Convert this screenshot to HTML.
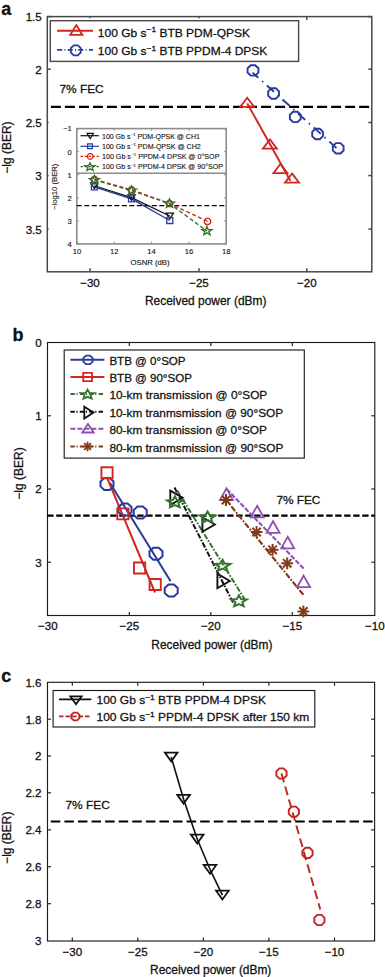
<!DOCTYPE html>
<html><head><meta charset="utf-8"><style>
html,body{margin:0;padding:0;background:#fff;}
svg{display:block;font-family:"Liberation Sans", sans-serif;}
text{stroke:#111;stroke-width:0.28px;}
.s{stroke-width:0.12px;}
</style></head><body>
<svg width="385" height="977" viewBox="0 0 385 977">
<rect width="385" height="977" fill="#fff"/>
<text x="1.30" y="14.90" font-size="18" text-anchor="start" fill="#111" font-weight="bold" >a</text>
<rect x="47.30" y="16.60" width="324.50" height="255.20" fill="none" stroke="#484848" stroke-width="1.5"/>
<line x1="90.00" y1="271.80" x2="90.00" y2="268.30" stroke="#484848" stroke-width="1.5" stroke-linecap="butt"/>
<line x1="90.00" y1="16.60" x2="90.00" y2="18.20" stroke="#484848" stroke-width="1.5" stroke-linecap="butt"/>
<line x1="199.00" y1="271.80" x2="199.00" y2="268.30" stroke="#484848" stroke-width="1.5" stroke-linecap="butt"/>
<line x1="199.00" y1="16.60" x2="199.00" y2="18.20" stroke="#484848" stroke-width="1.5" stroke-linecap="butt"/>
<line x1="306.80" y1="271.80" x2="306.80" y2="268.30" stroke="#484848" stroke-width="1.5" stroke-linecap="butt"/>
<line x1="306.80" y1="16.60" x2="306.80" y2="20.10" stroke="#484848" stroke-width="1.5" stroke-linecap="butt"/>
<line x1="47.30" y1="16.60" x2="50.80" y2="16.60" stroke="#484848" stroke-width="1.5" stroke-linecap="butt"/>
<line x1="371.80" y1="16.60" x2="368.30" y2="16.60" stroke="#484848" stroke-width="1.5" stroke-linecap="butt"/>
<line x1="47.30" y1="69.20" x2="50.80" y2="69.20" stroke="#484848" stroke-width="1.5" stroke-linecap="butt"/>
<line x1="371.80" y1="69.20" x2="368.30" y2="69.20" stroke="#484848" stroke-width="1.5" stroke-linecap="butt"/>
<line x1="47.30" y1="122.50" x2="50.80" y2="122.50" stroke="#484848" stroke-width="1.5" stroke-linecap="butt"/>
<line x1="371.80" y1="122.50" x2="368.30" y2="122.50" stroke="#484848" stroke-width="1.5" stroke-linecap="butt"/>
<line x1="47.30" y1="175.60" x2="50.80" y2="175.60" stroke="#484848" stroke-width="1.5" stroke-linecap="butt"/>
<line x1="371.80" y1="175.60" x2="368.30" y2="175.60" stroke="#484848" stroke-width="1.5" stroke-linecap="butt"/>
<line x1="47.30" y1="229.00" x2="50.80" y2="229.00" stroke="#484848" stroke-width="1.5" stroke-linecap="butt"/>
<line x1="371.80" y1="229.00" x2="368.30" y2="229.00" stroke="#484848" stroke-width="1.5" stroke-linecap="butt"/>
<text x="41.80" y="21.20" font-size="11.6" text-anchor="end" fill="#111" font-weight="normal" >1.5</text>
<text x="41.80" y="73.80" font-size="11.6" text-anchor="end" fill="#111" font-weight="normal" >2</text>
<text x="41.80" y="127.10" font-size="11.6" text-anchor="end" fill="#111" font-weight="normal" >2.5</text>
<text x="41.80" y="180.20" font-size="11.6" text-anchor="end" fill="#111" font-weight="normal" >3</text>
<text x="41.80" y="233.60" font-size="11.6" text-anchor="end" fill="#111" font-weight="normal" >3.5</text>
<text x="90.00" y="287.20" font-size="11.6" text-anchor="middle" fill="#111" font-weight="normal" >−30</text>
<text x="199.00" y="287.20" font-size="11.6" text-anchor="middle" fill="#111" font-weight="normal" >−25</text>
<text x="306.80" y="287.20" font-size="11.6" text-anchor="middle" fill="#111" font-weight="normal" >−20</text>
<text x="205.70" y="305.00" font-size="12" text-anchor="middle" fill="#111" font-weight="normal" textLength="121.4" lengthAdjust="spacingAndGlyphs" >Received power (dBm)</text>
<text x="0.00" y="0.00" font-size="12" text-anchor="middle" fill="#111" font-weight="normal" transform="translate(11.4,147.6) rotate(-90)" textLength="52.3" lengthAdjust="spacingAndGlyphs">−lg (BER)</text>
<line x1="50.90" y1="106.90" x2="371.80" y2="106.90" stroke="#000" stroke-width="2.2" stroke-linecap="butt" stroke-dasharray="10 4.01" stroke-dashoffset="0"/>
<text transform="translate(59.40,93.30) scale(1,0.9)" font-size="12" text-anchor="start" fill="#111" font-weight="normal" textLength="44.3" lengthAdjust="spacingAndGlyphs" >7% FEC</text>
<rect x="50.30" y="20.70" width="248.30" height="40.70" fill="#fff" stroke="#484848" stroke-width="1.4"/>
<line x1="57.10" y1="30.70" x2="93.00" y2="30.70" stroke="#d0281f" stroke-width="1.9" stroke-linecap="butt"/>
<polygon points="76.30,25.10 82.40,34.90 70.20,34.90" fill="none" stroke="#d0281f" stroke-width="1.8" stroke-linejoin="miter"/>
<line x1="57.10" y1="49.90" x2="93.00" y2="49.90" stroke="#283a9c" stroke-width="1.9" stroke-linecap="butt" stroke-dasharray="5 2.3 1 2.3" stroke-dashoffset="0"/>
<polygon points="80.80,52.37 77.87,55.30 73.73,55.30 70.80,52.37 70.80,48.23 73.73,45.30 77.87,45.30 80.80,48.23" fill="none" stroke="#283a9c" stroke-width="1.8" stroke-linejoin="miter"/>
<text transform="translate(97.80,36.50) scale(1,0.93)" font-size="12" text-anchor="start" fill="#111" font-weight="normal" >100 Gb s<tspan dy="-4.6" font-size="8.4">−1</tspan><tspan dy="4.6"> BTB PDM-QPSK</tspan></text>
<text transform="translate(97.80,54.90) scale(1,0.93)" font-size="12" text-anchor="start" fill="#111" font-weight="normal" >100 Gb s<tspan dy="-4.6" font-size="8.4">−1</tspan><tspan dy="4.6"> BTB PPDM-4 DPSK</tspan></text>
<line x1="252.60" y1="72.60" x2="338.50" y2="149.80" stroke="#283a9c" stroke-width="1.9" stroke-linecap="butt" stroke-dasharray="9.5 5 1.5 5" stroke-dashoffset="1.8"/>
<polygon points="258.40,72.55 255.24,75.60 250.76,75.60 247.60,72.55 247.60,68.25 250.76,65.20 255.24,65.20 258.40,68.25" fill="none" stroke="#283a9c" stroke-width="1.9" stroke-linejoin="miter"/>
<polygon points="279.00,95.65 275.84,98.70 271.36,98.70 268.20,95.65 268.20,91.35 271.36,88.30 275.84,88.30 279.00,91.35" fill="none" stroke="#283a9c" stroke-width="1.9" stroke-linejoin="miter"/>
<polygon points="300.70,119.05 297.54,122.10 293.06,122.10 289.90,119.05 289.90,114.75 293.06,111.70 297.54,111.70 300.70,114.75" fill="none" stroke="#283a9c" stroke-width="1.9" stroke-linejoin="miter"/>
<polygon points="323.00,136.15 319.84,139.20 315.36,139.20 312.20,136.15 312.20,131.85 315.36,128.80 319.84,128.80 323.00,131.85" fill="none" stroke="#283a9c" stroke-width="1.9" stroke-linejoin="miter"/>
<polygon points="343.60,150.45 340.44,153.50 335.96,153.50 332.80,150.45 332.80,146.15 335.96,143.10 340.44,143.10 343.60,146.15" fill="none" stroke="#283a9c" stroke-width="1.9" stroke-linejoin="miter"/>
<line x1="247.30" y1="103.50" x2="290.50" y2="181.00" stroke="#d0281f" stroke-width="1.9" stroke-linecap="butt"/>
<polygon points="247.20,97.70 254.20,106.90 240.20,106.90" fill="none" stroke="#d0281f" stroke-width="1.8" stroke-linejoin="miter"/>
<polygon points="269.90,139.40 276.90,148.60 262.90,148.60" fill="none" stroke="#d0281f" stroke-width="1.8" stroke-linejoin="miter"/>
<polygon points="280.40,163.90 287.40,173.10 273.40,173.10" fill="none" stroke="#d0281f" stroke-width="1.8" stroke-linejoin="miter"/>
<polygon points="292.00,173.40 299.00,182.60 285.00,182.60" fill="none" stroke="#d0281f" stroke-width="1.8" stroke-linejoin="miter"/>
<rect x="48.6" y="118" width="184" height="149.3" fill="#fff"/>
<rect x="76.80" y="128.60" width="149.40" height="115.30" fill="#fff" stroke="#8c8c8c" stroke-width="1.6"/>
<line x1="77.00" y1="243.90" x2="77.00" y2="241.70" stroke="#8c8c8c" stroke-width="1" stroke-linecap="butt"/>
<line x1="77.00" y1="128.60" x2="77.00" y2="130.80" stroke="#8c8c8c" stroke-width="1" stroke-linecap="butt"/>
<line x1="114.30" y1="243.90" x2="114.30" y2="241.70" stroke="#8c8c8c" stroke-width="1" stroke-linecap="butt"/>
<line x1="114.30" y1="128.60" x2="114.30" y2="130.80" stroke="#8c8c8c" stroke-width="1" stroke-linecap="butt"/>
<line x1="151.60" y1="243.90" x2="151.60" y2="241.70" stroke="#8c8c8c" stroke-width="1" stroke-linecap="butt"/>
<line x1="151.60" y1="128.60" x2="151.60" y2="130.80" stroke="#8c8c8c" stroke-width="1" stroke-linecap="butt"/>
<line x1="189.00" y1="243.90" x2="189.00" y2="241.70" stroke="#8c8c8c" stroke-width="1" stroke-linecap="butt"/>
<line x1="189.00" y1="128.60" x2="189.00" y2="130.80" stroke="#8c8c8c" stroke-width="1" stroke-linecap="butt"/>
<line x1="226.20" y1="243.90" x2="226.20" y2="241.70" stroke="#8c8c8c" stroke-width="1" stroke-linecap="butt"/>
<line x1="226.20" y1="128.60" x2="226.20" y2="130.80" stroke="#8c8c8c" stroke-width="1" stroke-linecap="butt"/>
<line x1="76.80" y1="128.60" x2="79.00" y2="128.60" stroke="#8c8c8c" stroke-width="1" stroke-linecap="butt"/>
<line x1="226.20" y1="128.60" x2="224.00" y2="128.60" stroke="#8c8c8c" stroke-width="1" stroke-linecap="butt"/>
<line x1="76.80" y1="151.70" x2="79.00" y2="151.70" stroke="#8c8c8c" stroke-width="1" stroke-linecap="butt"/>
<line x1="226.20" y1="151.70" x2="224.00" y2="151.70" stroke="#8c8c8c" stroke-width="1" stroke-linecap="butt"/>
<line x1="76.80" y1="174.80" x2="79.00" y2="174.80" stroke="#8c8c8c" stroke-width="1" stroke-linecap="butt"/>
<line x1="226.20" y1="174.80" x2="224.00" y2="174.80" stroke="#8c8c8c" stroke-width="1" stroke-linecap="butt"/>
<line x1="76.80" y1="197.80" x2="79.00" y2="197.80" stroke="#8c8c8c" stroke-width="1" stroke-linecap="butt"/>
<line x1="226.20" y1="197.80" x2="224.00" y2="197.80" stroke="#8c8c8c" stroke-width="1" stroke-linecap="butt"/>
<line x1="76.80" y1="220.90" x2="79.00" y2="220.90" stroke="#8c8c8c" stroke-width="1" stroke-linecap="butt"/>
<line x1="226.20" y1="220.90" x2="224.00" y2="220.90" stroke="#8c8c8c" stroke-width="1" stroke-linecap="butt"/>
<line x1="76.80" y1="243.90" x2="79.00" y2="243.90" stroke="#8c8c8c" stroke-width="1" stroke-linecap="butt"/>
<line x1="226.20" y1="243.90" x2="224.00" y2="243.90" stroke="#8c8c8c" stroke-width="1" stroke-linecap="butt"/>
<text x="71.80" y="131.40" font-size="7.6" text-anchor="end" fill="#111" font-weight="normal" class="s">−1</text>
<text x="71.80" y="154.50" font-size="7.6" text-anchor="end" fill="#111" font-weight="normal" class="s">0</text>
<text x="71.80" y="177.60" font-size="7.6" text-anchor="end" fill="#111" font-weight="normal" class="s">1</text>
<text x="71.80" y="200.60" font-size="7.6" text-anchor="end" fill="#111" font-weight="normal" class="s">2</text>
<text x="71.80" y="223.70" font-size="7.6" text-anchor="end" fill="#111" font-weight="normal" class="s">3</text>
<text x="71.80" y="246.70" font-size="7.6" text-anchor="end" fill="#111" font-weight="normal" class="s">4</text>
<text x="77.00" y="254.40" font-size="7.6" text-anchor="middle" fill="#111" font-weight="normal" class="s">10</text>
<text x="114.30" y="254.40" font-size="7.6" text-anchor="middle" fill="#111" font-weight="normal" class="s">12</text>
<text x="151.60" y="254.40" font-size="7.6" text-anchor="middle" fill="#111" font-weight="normal" class="s">14</text>
<text x="189.00" y="254.40" font-size="7.6" text-anchor="middle" fill="#111" font-weight="normal" class="s">16</text>
<text x="226.20" y="254.40" font-size="7.6" text-anchor="middle" fill="#111" font-weight="normal" class="s">18</text>
<text x="150.10" y="265.00" font-size="7.6" text-anchor="middle" fill="#111" font-weight="normal" textLength="39" lengthAdjust="spacingAndGlyphs" class="s">OSNR (dB)</text>
<text x="0.00" y="0.00" font-size="7.2" text-anchor="middle" fill="#111" font-weight="normal" class="s" transform="translate(56.8,186.8) rotate(-90)" textLength="46.5" lengthAdjust="spacingAndGlyphs">−log10 (BER)</text>
<line x1="76.80" y1="205.60" x2="226.20" y2="205.60" stroke="#000" stroke-width="1.4" stroke-linecap="butt" stroke-dasharray="5 2.5" stroke-dashoffset="0"/>
<line x1="76.80" y1="173.20" x2="226.20" y2="173.20" stroke="#8c8c8c" stroke-width="1.4" stroke-linecap="butt"/>
<line x1="80.50" y1="135.70" x2="98.90" y2="135.70" stroke="#111" stroke-width="1.2" stroke-linecap="butt"/>
<polygon points="87.00,133.40 93.40,133.40 90.20,138.60" fill="none" stroke="#111" stroke-width="1.2" stroke-linejoin="miter"/>
<line x1="80.50" y1="146.30" x2="98.90" y2="146.30" stroke="#283a9c" stroke-width="1.2" stroke-linecap="butt"/>
<polygon points="87.60,143.90 92.40,143.90 92.40,148.70 87.60,148.70" fill="none" stroke="#283a9c" stroke-width="1.2" stroke-linejoin="miter"/>
<line x1="80.50" y1="156.40" x2="98.90" y2="156.40" stroke="#d0281f" stroke-width="1.2" stroke-linecap="butt" stroke-dasharray="2.5 1.5" stroke-dashoffset="0"/>
<polygon points="92.90,157.56 91.32,159.20 89.08,159.20 87.50,157.56 87.50,155.24 89.08,153.60 91.32,153.60 92.90,155.24" fill="none" stroke="#d0281f" stroke-width="1.2" stroke-linejoin="miter"/>
<line x1="80.50" y1="166.70" x2="98.90" y2="166.70" stroke="#377231" stroke-width="1.2" stroke-linecap="butt" stroke-dasharray="2.5 1.5" stroke-dashoffset="0"/>
<polygon points="90.00,162.70 91.33,165.54 95.11,165.67 92.15,167.56 93.16,170.48 90.00,168.81 86.84,170.48 87.85,167.56 84.89,165.67 88.67,165.54" fill="none" stroke="#377231" stroke-width="1.3" stroke-linejoin="miter"/>
<text x="102.00" y="138.60" font-size="7.2" text-anchor="start" fill="#111" font-weight="normal" textLength="97.9" lengthAdjust="spacingAndGlyphs" class="s">100 Gb s<tspan dy="-2.8" font-size="4.0" dx="0.5">−1</tspan><tspan dy="2.8" dx="0.3"> PDM-QPSK @ CH1</tspan></text>
<text x="102.00" y="148.90" font-size="7.2" text-anchor="start" fill="#111" font-weight="normal" textLength="98.7" lengthAdjust="spacingAndGlyphs" class="s">100 Gb s<tspan dy="-2.8" font-size="4.0" dx="0.5">−1</tspan><tspan dy="2.8" dx="0.3"> PDM-QPSK @ CH2</tspan></text>
<text x="102.00" y="159.00" font-size="7.2" text-anchor="start" fill="#111" font-weight="normal" textLength="117.4" lengthAdjust="spacingAndGlyphs" class="s">100 Gb s<tspan dy="-2.8" font-size="4.0" dx="0.5">−1</tspan><tspan dy="2.8" dx="0.3"> PPDM-4 DPSK @ 0°SOP</tspan></text>
<text x="102.00" y="169.30" font-size="7.2" text-anchor="start" fill="#111" font-weight="normal" textLength="121.0" lengthAdjust="spacingAndGlyphs" class="s">100 Gb s<tspan dy="-2.8" font-size="4.0" dx="0.5">−1</tspan><tspan dy="2.8" dx="0.3"> PPDM-4 DPSK @ 90°SOP</tspan></text>
<polyline points="94.40,185.80 131.50,197.60 169.80,216.00" fill="none" stroke="#111" stroke-width="1.2" stroke-linejoin="round"/>
<polyline points="94.40,186.80 131.50,198.80 169.80,220.50" fill="none" stroke="#283a9c" stroke-width="1.4" stroke-linejoin="round"/>
<polyline points="94.40,179.40 131.50,189.80 169.50,203.50 207.50,221.40" fill="none" stroke="#d0281f" stroke-width="1.4" stroke-linejoin="round" stroke-dasharray="4 2.5" stroke-dashoffset="0"/>
<polyline points="94.40,180.00 131.50,190.60 169.50,203.60 206.90,231.00" fill="none" stroke="#377231" stroke-width="1.4" stroke-linejoin="round" stroke-dasharray="4 2.5" stroke-dashoffset="0"/>
<polygon points="90.80,183.00 98.00,183.00 94.40,188.60" fill="none" stroke="#111" stroke-width="1.3" stroke-linejoin="miter"/>
<polygon points="127.90,194.80 135.10,194.80 131.50,200.40" fill="none" stroke="#111" stroke-width="1.3" stroke-linejoin="miter"/>
<polygon points="166.20,213.20 173.40,213.20 169.80,218.80" fill="none" stroke="#111" stroke-width="1.3" stroke-linejoin="miter"/>
<polygon points="91.40,183.80 97.40,183.80 97.40,189.80 91.40,189.80" fill="none" stroke="#283a9c" stroke-width="1.3" stroke-linejoin="miter"/>
<polygon points="128.50,195.80 134.50,195.80 134.50,201.80 128.50,201.80" fill="none" stroke="#283a9c" stroke-width="1.3" stroke-linejoin="miter"/>
<polygon points="166.80,217.50 172.80,217.50 172.80,223.50 166.80,223.50" fill="none" stroke="#283a9c" stroke-width="1.3" stroke-linejoin="miter"/>
<polygon points="97.50,180.68 95.68,182.50 93.12,182.50 91.30,180.68 91.30,178.12 93.12,176.30 95.68,176.30 97.50,178.12" fill="none" stroke="#d0281f" stroke-width="1.3" stroke-linejoin="miter"/>
<polygon points="134.60,191.08 132.78,192.90 130.22,192.90 128.40,191.08 128.40,188.52 130.22,186.70 132.78,186.70 134.60,188.52" fill="none" stroke="#d0281f" stroke-width="1.3" stroke-linejoin="miter"/>
<polygon points="172.60,204.78 170.78,206.60 168.22,206.60 166.40,204.78 166.40,202.22 168.22,200.40 170.78,200.40 172.60,202.22" fill="none" stroke="#d0281f" stroke-width="1.3" stroke-linejoin="miter"/>
<polygon points="210.60,222.68 208.78,224.50 206.22,224.50 204.40,222.68 204.40,220.12 206.22,218.30 208.78,218.30 210.60,220.12" fill="none" stroke="#d0281f" stroke-width="1.3" stroke-linejoin="miter"/>
<polygon points="94.40,175.50 95.68,178.47 99.32,178.61 96.47,180.58 97.44,183.64 94.40,181.89 91.36,183.64 92.33,180.58 89.48,178.61 93.12,178.47" fill="none" stroke="#377231" stroke-width="1.4" stroke-linejoin="miter"/>
<polygon points="131.50,186.10 132.78,189.07 136.42,189.21 133.57,191.18 134.54,194.24 131.50,192.49 128.46,194.24 129.43,191.18 126.58,189.21 130.22,189.07" fill="none" stroke="#377231" stroke-width="1.4" stroke-linejoin="miter"/>
<polygon points="169.50,199.10 170.78,202.07 174.42,202.21 171.57,204.18 172.54,207.24 169.50,205.49 166.46,207.24 167.43,204.18 164.58,202.21 168.22,202.07" fill="none" stroke="#377231" stroke-width="1.4" stroke-linejoin="miter"/>
<polygon points="206.90,226.50 208.18,229.47 211.82,229.61 208.97,231.58 209.94,234.64 206.90,232.89 203.86,234.64 204.83,231.58 201.98,229.61 205.62,229.47" fill="none" stroke="#377231" stroke-width="1.4" stroke-linejoin="miter"/>
<text x="12.60" y="340.70" font-size="18" text-anchor="start" fill="#111" font-weight="bold" >b</text>
<rect x="47.50" y="342.50" width="327.30" height="273.00" fill="none" stroke="#1c1c1c" stroke-width="1.15"/>
<line x1="129.30" y1="615.50" x2="129.30" y2="612.00" stroke="#1c1c1c" stroke-width="1.15" stroke-linecap="butt"/>
<line x1="129.30" y1="342.50" x2="129.30" y2="346.00" stroke="#1c1c1c" stroke-width="1.15" stroke-linecap="butt"/>
<line x1="210.80" y1="615.50" x2="210.80" y2="612.00" stroke="#1c1c1c" stroke-width="1.15" stroke-linecap="butt"/>
<line x1="210.80" y1="342.50" x2="210.80" y2="346.00" stroke="#1c1c1c" stroke-width="1.15" stroke-linecap="butt"/>
<line x1="292.30" y1="615.50" x2="292.30" y2="612.00" stroke="#1c1c1c" stroke-width="1.15" stroke-linecap="butt"/>
<line x1="292.30" y1="342.50" x2="292.30" y2="346.00" stroke="#1c1c1c" stroke-width="1.15" stroke-linecap="butt"/>
<line x1="47.50" y1="415.80" x2="51.00" y2="415.80" stroke="#1c1c1c" stroke-width="1.15" stroke-linecap="butt"/>
<line x1="374.80" y1="415.80" x2="371.30" y2="415.80" stroke="#1c1c1c" stroke-width="1.15" stroke-linecap="butt"/>
<line x1="47.50" y1="489.00" x2="51.00" y2="489.00" stroke="#1c1c1c" stroke-width="1.15" stroke-linecap="butt"/>
<line x1="374.80" y1="489.00" x2="371.30" y2="489.00" stroke="#1c1c1c" stroke-width="1.15" stroke-linecap="butt"/>
<line x1="47.50" y1="562.20" x2="51.00" y2="562.20" stroke="#1c1c1c" stroke-width="1.15" stroke-linecap="butt"/>
<line x1="374.80" y1="562.20" x2="371.30" y2="562.20" stroke="#1c1c1c" stroke-width="1.15" stroke-linecap="butt"/>
<text x="41.80" y="346.90" font-size="11.6" text-anchor="end" fill="#111" font-weight="normal" >0</text>
<text x="41.80" y="420.20" font-size="11.6" text-anchor="end" fill="#111" font-weight="normal" >1</text>
<text x="41.80" y="493.40" font-size="11.6" text-anchor="end" fill="#111" font-weight="normal" >2</text>
<text x="41.80" y="566.60" font-size="11.6" text-anchor="end" fill="#111" font-weight="normal" >3</text>
<text x="47.80" y="630.20" font-size="11.6" text-anchor="middle" fill="#111" font-weight="normal" >−30</text>
<text x="129.30" y="630.20" font-size="11.6" text-anchor="middle" fill="#111" font-weight="normal" >−25</text>
<text x="210.80" y="630.20" font-size="11.6" text-anchor="middle" fill="#111" font-weight="normal" >−20</text>
<text x="292.30" y="630.20" font-size="11.6" text-anchor="middle" fill="#111" font-weight="normal" >−15</text>
<text x="374.80" y="630.20" font-size="11.6" text-anchor="middle" fill="#111" font-weight="normal" >−10</text>
<text x="211.90" y="649.00" font-size="12" text-anchor="middle" fill="#111" font-weight="normal" textLength="121.1" lengthAdjust="spacingAndGlyphs" >Received power (dBm)</text>
<text x="0.00" y="0.00" font-size="12" text-anchor="middle" fill="#111" font-weight="normal" transform="translate(22.6,473.5) rotate(-90)" textLength="52.4" lengthAdjust="spacingAndGlyphs">−lg (BER)</text>
<line x1="47.20" y1="515.60" x2="374.80" y2="515.60" stroke="#000" stroke-width="2.2" stroke-linecap="butt" stroke-dasharray="6.4 2.6" stroke-dashoffset="0"/>
<text transform="translate(276.40,503.50) scale(1,0.9)" font-size="12" text-anchor="start" fill="#111" font-weight="normal" textLength="44" lengthAdjust="spacingAndGlyphs" >7% FEC</text>
<rect x="64.20" y="350.00" width="240.10" height="108.10" fill="#fff" stroke="#1c1c1c" stroke-width="1.15"/>
<line x1="70.40" y1="359.70" x2="104.40" y2="359.70" stroke="#283a9c" stroke-width="1.9" stroke-linecap="butt"/>
<polygon points="92.70,361.68 89.95,364.20 86.05,364.20 83.30,361.68 83.30,358.12 86.05,355.60 89.95,355.60 92.70,358.12" fill="none" stroke="#283a9c" stroke-width="1.8" stroke-linejoin="miter"/>
<line x1="70.40" y1="377.00" x2="104.40" y2="377.00" stroke="#d0281f" stroke-width="1.9" stroke-linecap="butt"/>
<polygon points="83.20,372.90 92.00,372.90 92.00,381.10 83.20,381.10" fill="none" stroke="#d0281f" stroke-width="1.8" stroke-linejoin="miter"/>
<line x1="70.40" y1="394.00" x2="104.40" y2="394.00" stroke="#377231" stroke-width="1.9" stroke-linecap="butt" stroke-dasharray="4.4 1.6 1.2 2.2" stroke-dashoffset="0"/>
<polygon points="87.60,389.60 89.45,392.78 94.26,393.05 90.60,395.30 91.71,398.65 87.60,396.85 83.49,398.65 84.60,395.30 80.94,393.05 85.75,392.78" fill="none" stroke="#377231" stroke-width="1.8" stroke-linejoin="miter"/>
<line x1="70.40" y1="411.70" x2="104.40" y2="411.70" stroke="#111" stroke-width="1.9" stroke-linecap="butt" stroke-dasharray="4.4 1.6 1.2 2.2" stroke-dashoffset="0"/>
<polygon points="84.30,406.70 93.50,412.60 84.30,418.50" fill="none" stroke="#111" stroke-width="1.8" stroke-linejoin="miter"/>
<line x1="70.40" y1="428.80" x2="104.40" y2="428.80" stroke="#8f50b6" stroke-width="1.9" stroke-linecap="butt" stroke-dasharray="5 2" stroke-dashoffset="0"/>
<polygon points="88.00,423.90 93.80,432.50 82.20,432.50" fill="none" stroke="#8f50b6" stroke-width="1.8" stroke-linejoin="miter"/>
<line x1="70.40" y1="446.50" x2="104.40" y2="446.50" stroke="#803a1a" stroke-width="1.9" stroke-linecap="butt" stroke-dasharray="4.4 1.6 1.2 2.2" stroke-dashoffset="0"/>
<line x1="82.80" y1="446.50" x2="92.40" y2="446.50" stroke="#803a1a" stroke-width="1.8" stroke-linecap="butt"/>
<line x1="84.21" y1="443.11" x2="90.99" y2="449.89" stroke="#803a1a" stroke-width="1.8" stroke-linecap="butt"/>
<line x1="87.60" y1="441.70" x2="87.60" y2="451.30" stroke="#803a1a" stroke-width="1.8" stroke-linecap="butt"/>
<line x1="90.99" y1="443.11" x2="84.21" y2="449.89" stroke="#803a1a" stroke-width="1.8" stroke-linecap="butt"/>
<text transform="translate(109.40,364.70) scale(1,0.95)" font-size="12" text-anchor="start" fill="#111" font-weight="normal" textLength="76.2" lengthAdjust="spacingAndGlyphs" >BTB @ 0°SOP</text>
<text transform="translate(109.40,382.00) scale(1,0.95)" font-size="12" text-anchor="start" fill="#111" font-weight="normal" textLength="82.5" lengthAdjust="spacingAndGlyphs" >BTB @ 90°SOP</text>
<text transform="translate(109.40,399.00) scale(1,0.95)" font-size="12" text-anchor="start" fill="#111" font-weight="normal" textLength="157.9" lengthAdjust="spacingAndGlyphs" >10-km transmission @ 0°SOP</text>
<text transform="translate(109.40,416.70) scale(1,0.95)" font-size="12" text-anchor="start" fill="#111" font-weight="normal" textLength="173.7" lengthAdjust="spacingAndGlyphs" >10-km tranmsmission @ 90°SOP</text>
<text transform="translate(109.40,433.80) scale(1,0.95)" font-size="12" text-anchor="start" fill="#111" font-weight="normal" textLength="157.5" lengthAdjust="spacingAndGlyphs" >80-km transmission @ 0°SOP</text>
<text transform="translate(109.40,451.50) scale(1,0.95)" font-size="12" text-anchor="start" fill="#111" font-weight="normal" textLength="173.9" lengthAdjust="spacingAndGlyphs" >80-km tranmsmission @ 90°SOP</text>
<line x1="110.00" y1="483.00" x2="170.60" y2="581.20" stroke="#283a9c" stroke-width="2.0" stroke-linecap="butt"/>
<line x1="106.80" y1="477.00" x2="155.00" y2="592.50" stroke="#d0281f" stroke-width="2.0" stroke-linecap="butt"/>
<polygon points="113.50,486.39 109.69,489.90 104.31,489.90 100.50,486.39 100.50,481.41 104.31,477.90 109.69,477.90 113.50,481.41" fill="none" stroke="#283a9c" stroke-width="2.0" stroke-linejoin="miter"/>
<polygon points="131.50,511.99 127.69,515.50 122.31,515.50 118.50,511.99 118.50,507.01 122.31,503.50 127.69,503.50 131.50,507.01" fill="none" stroke="#283a9c" stroke-width="2.0" stroke-linejoin="miter"/>
<polygon points="146.70,514.89 142.89,518.40 137.51,518.40 133.70,514.89 133.70,509.91 137.51,506.40 142.89,506.40 146.70,509.91" fill="none" stroke="#283a9c" stroke-width="2.0" stroke-linejoin="miter"/>
<polygon points="162.50,556.19 158.69,559.70 153.31,559.70 149.50,556.19 149.50,551.21 153.31,547.70 158.69,547.70 162.50,551.21" fill="none" stroke="#283a9c" stroke-width="2.0" stroke-linejoin="miter"/>
<polygon points="177.70,592.99 173.89,596.50 168.51,596.50 164.70,592.99 164.70,588.01 168.51,584.50 173.89,584.50 177.70,588.01" fill="none" stroke="#283a9c" stroke-width="2.0" stroke-linejoin="miter"/>
<polygon points="101.40,467.20 112.60,467.20 112.60,478.20 101.40,478.20" fill="none" stroke="#d0281f" stroke-width="1.9" stroke-linejoin="miter"/>
<polygon points="117.30,508.40 128.50,508.40 128.50,519.40 117.30,519.40" fill="none" stroke="#d0281f" stroke-width="1.9" stroke-linejoin="miter"/>
<polygon points="134.00,562.50 145.20,562.50 145.20,573.50 134.00,573.50" fill="none" stroke="#d0281f" stroke-width="1.9" stroke-linejoin="miter"/>
<polygon points="149.60,579.00 160.80,579.00 160.80,590.00 149.60,590.00" fill="none" stroke="#d0281f" stroke-width="1.9" stroke-linejoin="miter"/>
<line x1="174.50" y1="487.50" x2="233.80" y2="604.00" stroke="#111" stroke-width="2.0" stroke-linecap="butt" stroke-dasharray="5.5 1.6 1.6 1.6" stroke-dashoffset="0"/>
<line x1="177.20" y1="490.50" x2="244.50" y2="599.00" stroke="#377231" stroke-width="2.0" stroke-linecap="butt" stroke-dasharray="5.5 1.6 1.6 1.6" stroke-dashoffset="0"/>
<polygon points="170.30,490.60 182.70,497.80 170.30,505.00" fill="none" stroke="#111" stroke-width="1.9" stroke-linejoin="miter"/>
<polygon points="202.40,517.30 214.80,524.50 202.40,531.70" fill="none" stroke="#111" stroke-width="1.9" stroke-linejoin="miter"/>
<polygon points="217.40,573.80 229.80,581.00 217.40,588.20" fill="none" stroke="#111" stroke-width="1.9" stroke-linejoin="miter"/>
<polygon points="174.90,496.30 177.04,500.12 182.60,500.45 178.37,503.13 179.66,507.15 174.90,505.00 170.14,507.15 171.43,503.13 167.20,500.45 172.76,500.12" fill="none" stroke="#377231" stroke-width="2.0" stroke-linejoin="miter"/>
<polygon points="207.60,511.50 209.74,515.32 215.30,515.65 211.07,518.33 212.36,522.35 207.60,520.20 202.84,522.35 204.13,518.33 199.90,515.65 205.46,515.32" fill="none" stroke="#377231" stroke-width="2.0" stroke-linejoin="miter"/>
<polygon points="222.60,559.80 224.74,563.62 230.30,563.95 226.07,566.63 227.36,570.65 222.60,568.50 217.84,570.65 219.13,566.63 214.90,563.95 220.46,563.62" fill="none" stroke="#377231" stroke-width="2.0" stroke-linejoin="miter"/>
<polygon points="238.90,595.30 241.04,599.12 246.60,599.45 242.37,602.13 243.66,606.15 238.90,604.00 234.14,606.15 235.43,602.13 231.20,599.45 236.76,599.12" fill="none" stroke="#377231" stroke-width="2.0" stroke-linejoin="miter"/>
<line x1="226.70" y1="489.10" x2="304.80" y2="569.80" stroke="#8f50b6" stroke-width="2.1" stroke-linecap="butt" stroke-dasharray="5 1.6" stroke-dashoffset="0"/>
<line x1="224.50" y1="498.00" x2="304.20" y2="595.80" stroke="#803a1a" stroke-width="2.1" stroke-linecap="butt" stroke-dasharray="6 1.6 1.6 1.6" stroke-dashoffset="0"/>
<polygon points="226.50,488.40 233.00,500.00 220.00,500.00" fill="none" stroke="#8f50b6" stroke-width="1.8" stroke-linejoin="miter"/>
<polygon points="257.20,505.80 263.70,517.40 250.70,517.40" fill="none" stroke="#8f50b6" stroke-width="1.8" stroke-linejoin="miter"/>
<polygon points="273.10,521.20 279.60,532.80 266.60,532.80" fill="none" stroke="#8f50b6" stroke-width="1.8" stroke-linejoin="miter"/>
<polygon points="287.70,536.80 294.20,548.40 281.20,548.40" fill="none" stroke="#8f50b6" stroke-width="1.8" stroke-linejoin="miter"/>
<polygon points="303.60,575.60 310.10,587.20 297.10,587.20" fill="none" stroke="#8f50b6" stroke-width="1.8" stroke-linejoin="miter"/>
<line x1="220.10" y1="500.00" x2="231.90" y2="500.00" stroke="#803a1a" stroke-width="2.0" stroke-linecap="butt"/>
<line x1="221.83" y1="495.83" x2="230.17" y2="504.17" stroke="#803a1a" stroke-width="2.0" stroke-linecap="butt"/>
<line x1="226.00" y1="494.10" x2="226.00" y2="505.90" stroke="#803a1a" stroke-width="2.0" stroke-linecap="butt"/>
<line x1="230.17" y1="495.83" x2="221.83" y2="504.17" stroke="#803a1a" stroke-width="2.0" stroke-linecap="butt"/>
<line x1="250.70" y1="532.00" x2="262.50" y2="532.00" stroke="#803a1a" stroke-width="2.0" stroke-linecap="butt"/>
<line x1="252.43" y1="527.83" x2="260.77" y2="536.17" stroke="#803a1a" stroke-width="2.0" stroke-linecap="butt"/>
<line x1="256.60" y1="526.10" x2="256.60" y2="537.90" stroke="#803a1a" stroke-width="2.0" stroke-linecap="butt"/>
<line x1="260.77" y1="527.83" x2="252.43" y2="536.17" stroke="#803a1a" stroke-width="2.0" stroke-linecap="butt"/>
<line x1="266.70" y1="549.80" x2="278.50" y2="549.80" stroke="#803a1a" stroke-width="2.0" stroke-linecap="butt"/>
<line x1="268.43" y1="545.63" x2="276.77" y2="553.97" stroke="#803a1a" stroke-width="2.0" stroke-linecap="butt"/>
<line x1="272.60" y1="543.90" x2="272.60" y2="555.70" stroke="#803a1a" stroke-width="2.0" stroke-linecap="butt"/>
<line x1="276.77" y1="545.63" x2="268.43" y2="553.97" stroke="#803a1a" stroke-width="2.0" stroke-linecap="butt"/>
<line x1="281.30" y1="563.30" x2="293.10" y2="563.30" stroke="#803a1a" stroke-width="2.0" stroke-linecap="butt"/>
<line x1="283.03" y1="559.13" x2="291.37" y2="567.47" stroke="#803a1a" stroke-width="2.0" stroke-linecap="butt"/>
<line x1="287.20" y1="557.40" x2="287.20" y2="569.20" stroke="#803a1a" stroke-width="2.0" stroke-linecap="butt"/>
<line x1="291.37" y1="559.13" x2="283.03" y2="567.47" stroke="#803a1a" stroke-width="2.0" stroke-linecap="butt"/>
<line x1="297.50" y1="611.50" x2="309.30" y2="611.50" stroke="#803a1a" stroke-width="2.0" stroke-linecap="butt"/>
<line x1="299.23" y1="607.33" x2="307.57" y2="615.67" stroke="#803a1a" stroke-width="2.0" stroke-linecap="butt"/>
<line x1="303.40" y1="605.60" x2="303.40" y2="617.40" stroke="#803a1a" stroke-width="2.0" stroke-linecap="butt"/>
<line x1="307.57" y1="607.33" x2="299.23" y2="615.67" stroke="#803a1a" stroke-width="2.0" stroke-linecap="butt"/>
<text x="1.30" y="681.90" font-size="18" text-anchor="start" fill="#111" font-weight="bold" >c</text>
<rect x="47.50" y="682.30" width="327.10" height="258.70" fill="none" stroke="#1c1c1c" stroke-width="1.15"/>
<line x1="72.30" y1="941.00" x2="72.30" y2="937.50" stroke="#1c1c1c" stroke-width="1.15" stroke-linecap="butt"/>
<line x1="72.30" y1="682.30" x2="72.30" y2="685.80" stroke="#1c1c1c" stroke-width="1.15" stroke-linecap="butt"/>
<line x1="137.80" y1="941.00" x2="137.80" y2="937.50" stroke="#1c1c1c" stroke-width="1.15" stroke-linecap="butt"/>
<line x1="137.80" y1="682.30" x2="137.80" y2="685.80" stroke="#1c1c1c" stroke-width="1.15" stroke-linecap="butt"/>
<line x1="203.40" y1="941.00" x2="203.40" y2="937.50" stroke="#1c1c1c" stroke-width="1.15" stroke-linecap="butt"/>
<line x1="203.40" y1="682.30" x2="203.40" y2="685.80" stroke="#1c1c1c" stroke-width="1.15" stroke-linecap="butt"/>
<line x1="268.90" y1="941.00" x2="268.90" y2="937.50" stroke="#1c1c1c" stroke-width="1.15" stroke-linecap="butt"/>
<line x1="268.90" y1="682.30" x2="268.90" y2="685.80" stroke="#1c1c1c" stroke-width="1.15" stroke-linecap="butt"/>
<line x1="334.50" y1="941.00" x2="334.50" y2="937.50" stroke="#1c1c1c" stroke-width="1.15" stroke-linecap="butt"/>
<line x1="334.50" y1="682.30" x2="334.50" y2="685.80" stroke="#1c1c1c" stroke-width="1.15" stroke-linecap="butt"/>
<line x1="47.50" y1="719.20" x2="51.00" y2="719.20" stroke="#1c1c1c" stroke-width="1.15" stroke-linecap="butt"/>
<line x1="374.60" y1="719.20" x2="371.10" y2="719.20" stroke="#1c1c1c" stroke-width="1.15" stroke-linecap="butt"/>
<line x1="47.50" y1="756.00" x2="51.00" y2="756.00" stroke="#1c1c1c" stroke-width="1.15" stroke-linecap="butt"/>
<line x1="374.60" y1="756.00" x2="371.10" y2="756.00" stroke="#1c1c1c" stroke-width="1.15" stroke-linecap="butt"/>
<line x1="47.50" y1="792.80" x2="51.00" y2="792.80" stroke="#1c1c1c" stroke-width="1.15" stroke-linecap="butt"/>
<line x1="374.60" y1="792.80" x2="371.10" y2="792.80" stroke="#1c1c1c" stroke-width="1.15" stroke-linecap="butt"/>
<line x1="47.50" y1="829.90" x2="51.00" y2="829.90" stroke="#1c1c1c" stroke-width="1.15" stroke-linecap="butt"/>
<line x1="374.60" y1="829.90" x2="371.10" y2="829.90" stroke="#1c1c1c" stroke-width="1.15" stroke-linecap="butt"/>
<line x1="47.50" y1="866.70" x2="51.00" y2="866.70" stroke="#1c1c1c" stroke-width="1.15" stroke-linecap="butt"/>
<line x1="374.60" y1="866.70" x2="371.10" y2="866.70" stroke="#1c1c1c" stroke-width="1.15" stroke-linecap="butt"/>
<line x1="47.50" y1="903.70" x2="51.00" y2="903.70" stroke="#1c1c1c" stroke-width="1.15" stroke-linecap="butt"/>
<line x1="374.60" y1="903.70" x2="371.10" y2="903.70" stroke="#1c1c1c" stroke-width="1.15" stroke-linecap="butt"/>
<text x="41.50" y="686.60" font-size="11.6" text-anchor="end" fill="#111" font-weight="normal" >1.6</text>
<text x="41.50" y="723.50" font-size="11.6" text-anchor="end" fill="#111" font-weight="normal" >1.8</text>
<text x="41.50" y="760.30" font-size="11.6" text-anchor="end" fill="#111" font-weight="normal" >2</text>
<text x="41.50" y="797.10" font-size="11.6" text-anchor="end" fill="#111" font-weight="normal" >2.2</text>
<text x="41.50" y="834.20" font-size="11.6" text-anchor="end" fill="#111" font-weight="normal" >2.4</text>
<text x="41.50" y="871.00" font-size="11.6" text-anchor="end" fill="#111" font-weight="normal" >2.6</text>
<text x="41.50" y="908.00" font-size="11.6" text-anchor="end" fill="#111" font-weight="normal" >2.8</text>
<text x="41.50" y="945.30" font-size="11.6" text-anchor="end" fill="#111" font-weight="normal" >3</text>
<text x="72.30" y="956.20" font-size="11.6" text-anchor="middle" fill="#111" font-weight="normal" >−30</text>
<text x="137.80" y="956.20" font-size="11.6" text-anchor="middle" fill="#111" font-weight="normal" >−25</text>
<text x="203.40" y="956.20" font-size="11.6" text-anchor="middle" fill="#111" font-weight="normal" >−20</text>
<text x="268.90" y="956.20" font-size="11.6" text-anchor="middle" fill="#111" font-weight="normal" >−15</text>
<text x="334.50" y="956.20" font-size="11.6" text-anchor="middle" fill="#111" font-weight="normal" >−10</text>
<text x="210.70" y="973.60" font-size="12" text-anchor="middle" fill="#111" font-weight="normal" textLength="121.3" lengthAdjust="spacingAndGlyphs" >Received power (dBm)</text>
<text x="0.00" y="0.00" font-size="12" text-anchor="middle" fill="#111" font-weight="normal" transform="translate(10.5,837.7) rotate(-90)" textLength="52.4" lengthAdjust="spacingAndGlyphs">−lg (BER)</text>
<line x1="50.80" y1="821.40" x2="374.60" y2="821.40" stroke="#000" stroke-width="2.0" stroke-linecap="butt" stroke-dasharray="9.5 4.08" stroke-dashoffset="0"/>
<text transform="translate(65.40,809.40) scale(1,0.9)" font-size="12" text-anchor="start" fill="#111" font-weight="normal" textLength="44.4" lengthAdjust="spacingAndGlyphs" >7% FEC</text>
<rect x="53.10" y="690.50" width="261.70" height="36.50" fill="#fff" stroke="#1c1c1c" stroke-width="1.15"/>
<line x1="59.00" y1="699.40" x2="91.30" y2="699.40" stroke="#111" stroke-width="1.8" stroke-linecap="butt"/>
<polygon points="70.40,696.40 81.60,696.40 76.00,704.20" fill="none" stroke="#111" stroke-width="1.8" stroke-linejoin="miter"/>
<line x1="59.00" y1="716.40" x2="91.30" y2="716.40" stroke="#bd2620" stroke-width="1.8" stroke-linecap="butt" stroke-dasharray="4.5 2" stroke-dashoffset="0"/>
<polygon points="79.50,718.07 77.10,720.30 73.70,720.30 71.30,718.07 71.30,714.93 73.70,712.70 77.10,712.70 79.50,714.93" fill="none" stroke="#bd2620" stroke-width="1.8" stroke-linejoin="miter"/>
<text transform="translate(96.50,703.80) scale(1,0.93)" font-size="12" text-anchor="start" fill="#111" font-weight="normal" >100 Gb s<tspan dy="-4.6" font-size="8.4">−1</tspan><tspan dy="4.6"> BTB PPDM-4 DPSK</tspan></text>
<text transform="translate(96.50,720.90) scale(1,0.93)" font-size="12" text-anchor="start" fill="#111" font-weight="normal" >100 Gb s<tspan dy="-4.6" font-size="8.4">−1</tspan><tspan dy="4.6"> PPDM-4 DPSK after 150 km</tspan></text>
<polyline points="171.20,757.00 183.60,799.20 197.20,839.00 210.00,869.30 222.40,895.10" fill="none" stroke="#111" stroke-width="1.6" stroke-linejoin="round"/>
<polygon points="164.90,752.60 177.50,752.60 171.20,761.40" fill="none" stroke="#111" stroke-width="1.8" stroke-linejoin="miter"/>
<polygon points="177.30,794.80 189.90,794.80 183.60,803.60" fill="none" stroke="#111" stroke-width="1.8" stroke-linejoin="miter"/>
<polygon points="190.90,834.60 203.50,834.60 197.20,843.40" fill="none" stroke="#111" stroke-width="1.8" stroke-linejoin="miter"/>
<polygon points="203.70,864.90 216.30,864.90 210.00,873.70" fill="none" stroke="#111" stroke-width="1.8" stroke-linejoin="miter"/>
<polygon points="216.10,890.70 228.70,890.70 222.40,899.50" fill="none" stroke="#111" stroke-width="1.8" stroke-linejoin="miter"/>
<line x1="281.50" y1="773.50" x2="320.30" y2="909.60" stroke="#bd2620" stroke-width="1.9" stroke-linecap="butt" stroke-dasharray="9 4.5" stroke-dashoffset="0"/>
<polygon points="286.60,775.61 283.61,778.60 279.39,778.60 276.40,775.61 276.40,771.39 279.39,768.40 283.61,768.40 286.60,771.39" fill="none" stroke="#bd2620" stroke-width="1.9" stroke-linejoin="miter"/>
<polygon points="299.00,813.81 296.01,816.80 291.79,816.80 288.80,813.81 288.80,809.59 291.79,806.60 296.01,806.60 299.00,809.59" fill="none" stroke="#bd2620" stroke-width="1.9" stroke-linejoin="miter"/>
<polygon points="312.60,855.01 309.61,858.00 305.39,858.00 302.40,855.01 302.40,850.79 305.39,847.80 309.61,847.80 312.60,850.79" fill="none" stroke="#bd2620" stroke-width="1.9" stroke-linejoin="miter"/>
<polygon points="324.50,922.11 321.51,925.10 317.29,925.10 314.30,922.11 314.30,917.89 317.29,914.90 321.51,914.90 324.50,917.89" fill="none" stroke="#bd2620" stroke-width="1.9" stroke-linejoin="miter"/>
</svg></body></html>
